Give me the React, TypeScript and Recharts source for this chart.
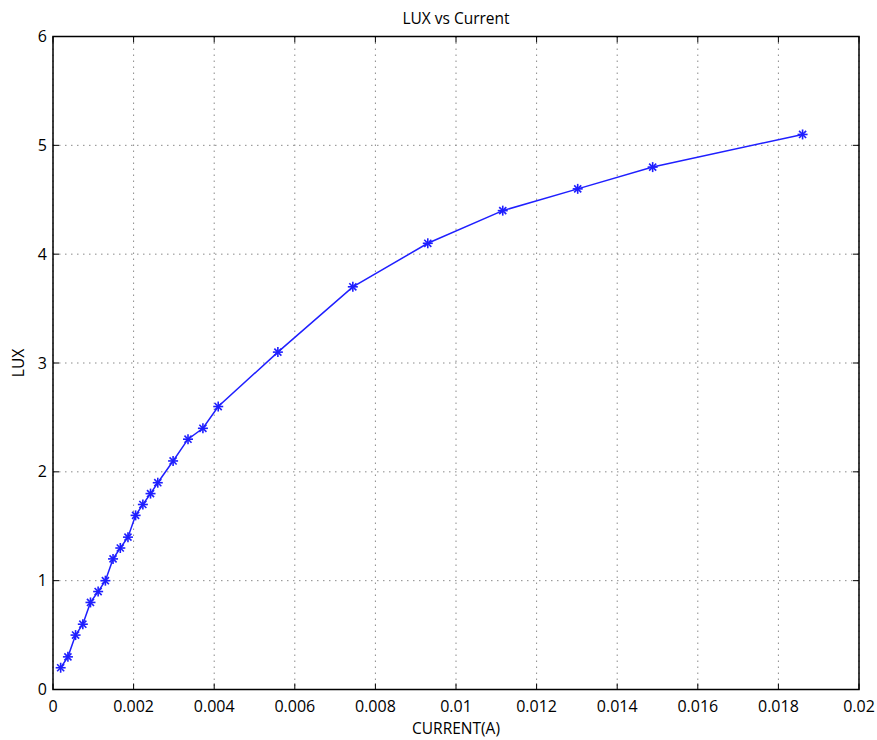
import React from 'react';
import { LineChart, Line, XAxis, YAxis, CartesianGrid, ReferenceArea } from 'recharts';

const currentA = [0.00019, 0.00037, 0.00056, 0.00074, 0.00093, 0.00112, 0.0013, 0.00149, 0.00167, 0.00186, 0.00205, 0.00223, 0.00242, 0.0026, 0.00298, 0.00335, 0.00372, 0.0041, 0.00558, 0.00744, 0.0093, 0.01116, 0.01302, 0.01488, 0.0186];
const luxValues = [0.2, 0.3, 0.5, 0.6, 0.8, 0.9, 1.0, 1.2, 1.3, 1.4, 1.6, 1.7, 1.8, 1.9, 2.1, 2.3, 2.4, 2.6, 3.1, 3.7, 4.1, 4.4, 4.6, 4.8, 5.1];
const xTicks = [0, 0.002, 0.004, 0.006, 0.008, 0.01, 0.012, 0.014, 0.016, 0.018, 0.02];
const yTicks = [0, 1, 2, 3, 4, 5, 6];
const xTickLabels = ['0', '0.002', '0.004', '0.006', '0.008', '0.01', '0.012', '0.014', '0.016', '0.018', '0.02'];
const yTickLabels = ['0', '1', '2', '3', '4', '5', '6'];

const data = currentA.map((c, i) => ({ current: c, lux: luxValues[i] }));

const W = 877;
const H = 740;
const TOP = 36.5;
const BOTTOM = 689.5;
const LEFT = 53;
const RIGHT = 859;
const FONT = '"Open Sans", "DejaVu Sans", sans-serif';
const LINE_COLOR = '#1f1fff';

const XTick = (props: any) => {
  const { x, payload } = props;
  const idx = xTicks.indexOf(payload.value);
  const label = idx >= 0 ? xTickLabels[idx] : String(payload.value);
  return (
    <g>
      <line x1={x} x2={x} y1={BOTTOM} y2={BOTTOM - 6} stroke="#000" strokeWidth={1} />
      <line x1={x} x2={x} y1={TOP} y2={TOP + 6} stroke="#000" strokeWidth={1} />
      <text x={x} y={BOTTOM + 22} textAnchor="middle" fontSize={16} fontFamily={FONT} fill="#000">
        {label}
      </text>
    </g>
  );
};

const YTick = (props: any) => {
  const { y, payload } = props;
  const idx = yTicks.indexOf(payload.value);
  const label = idx >= 0 ? yTickLabels[idx] : String(payload.value);
  return (
    <g>
      <line x1={LEFT} x2={LEFT + 6} y1={y} y2={y} stroke="#000" strokeWidth={1} />
      <line x1={RIGHT - 6} x2={RIGHT} y1={y} y2={y} stroke="#000" strokeWidth={1} />
      <text x={LEFT - 6} y={y + 5.5} textAnchor="end" fontSize={16} fontFamily={FONT} fill="#000">
        {label}
      </text>
    </g>
  );
};

const StarDot = (props: any) => {
  const { cx, cy } = props;
  if (cx == null || cy == null) return null;
  const r = 5;
  const d = r * 0.7071;
  return (
    <g stroke={LINE_COLOR} strokeWidth={1.6}>
      <line x1={cx - r} x2={cx + r} y1={cy} y2={cy} />
      <line x1={cx} x2={cx} y1={cy - r} y2={cy + r} />
      <line x1={cx - d} x2={cx + d} y1={cy - d} y2={cy + d} />
      <line x1={cx - d} x2={cx + d} y1={cy + d} y2={cy - d} />
    </g>
  );
};

export default function App() {
  return (
    <div style={{ position: 'absolute', left: 0, top: 0, width: W, height: H, background: '#fff' }}>
      <div
        style={{
          position: 'absolute',
          left: LEFT,
          width: RIGHT - LEFT,
          top: 7,
          textAlign: 'center',
          fontFamily: FONT,
          fontSize: 15.5,
          lineHeight: '22px',
          color: '#000',
        }}
      >
        LUX vs Current
      </div>
      <LineChart
        width={W}
        height={H}
        data={data}
        margin={{ top: TOP, right: W - RIGHT, bottom: 0, left: 0 }}
      >
        <CartesianGrid
          stroke="#8a8a8a"
          strokeDasharray="1.5 4.5"
          strokeWidth={1}
        />
        <XAxis
          dataKey="current"
          type="number"
          domain={[0, 0.02]}
          ticks={xTicks}
          interval={0}
          height={H - BOTTOM}
          axisLine={false}
          tickLine={false}
          tickSize={0}
          tickMargin={0}
          tick={<XTick />}
          label={{ value: 'CURRENT(A)', position: 'insideBottom', offset: 6, fontSize: 15.5, fontFamily: FONT, fill: '#000' }}
        />
        <YAxis
          type="number"
          domain={[0, 6]}
          ticks={yTicks}
          interval={0}
          width={LEFT}
          axisLine={false}
          tickLine={false}
          tickSize={0}
          tickMargin={0}
          tick={<YTick />}
          label={{ value: 'LUX', angle: -90, position: 'insideLeft', offset: 18, fontSize: 15.5, fontFamily: FONT, fill: '#000', style: { textAnchor: 'middle' } }}
        />
        <ReferenceArea x1={0} x2={0.02} y1={0} y2={6} fill="none" fillOpacity={0} stroke="#000" strokeWidth={1.5} />
        <Line
          type="linear"
          dataKey="lux"
          stroke={LINE_COLOR}
          strokeWidth={1.5}
          dot={<StarDot />}
          activeDot={false}
          isAnimationActive={false}
        />
      </LineChart>
    </div>
  );
}
